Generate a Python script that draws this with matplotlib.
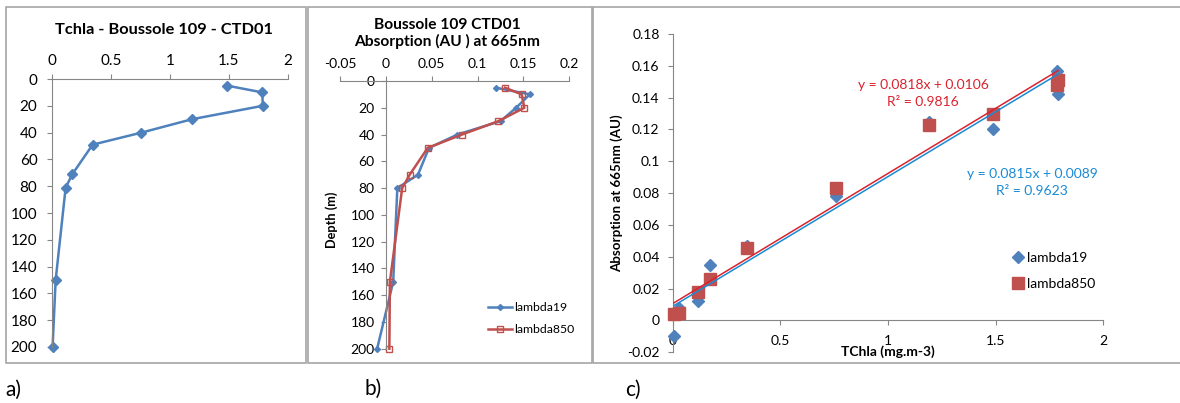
import numpy as np
import matplotlib
matplotlib.use("Agg")
import matplotlib.pyplot as plt
from matplotlib.patches import Rectangle

plt.rcParams['font.family'] = ['Lato', 'DejaVu Sans']
plt.rcParams['axes.unicode_minus'] = False

# Data
depth_tchla = [5, 10, 20, 30, 40, 49, 71, 81, 150, 200]
tchla = [1.49, 1.786, 1.79, 1.19, 0.76, 0.345, 0.173, 0.116, 0.031, 0.005]

depth_abs = [5, 10, 20, 30, 40, 50, 70, 80, 150, 200]
abs_l19 = [0.120, 0.157, 0.142, 0.125, 0.078, 0.047, 0.035, 0.0125, 0.008, -0.0095]
abs_l850 = [0.130, 0.148, 0.151, 0.1227, 0.083, 0.0456, 0.026, 0.0178, 0.0044, 0.0038]

# Excel trendline coefficients (slope, intercept, R2)
fit_l19 = (0.0815, 0.0089, 0.9623)
fit_l850 = (0.0818, 0.0106, 0.9816)

ticks_a_x = [0, 0.5, 1, 1.5, 2]
ticks_a_y = [0, 20, 40, 60, 80, 100, 120, 140, 160, 180, 200]
ticks_b_x = [-0.05, 0, 0.05, 0.1, 0.15, 0.2]
ticks_c_x = [0, 0.5, 1, 1.5, 2]
ticks_c_y = [-0.02, 0, 0.02, 0.04, 0.06, 0.08, 0.1, 0.12, 0.14, 0.16, 0.18]

blue = '#4f81bd'
red = '#c0504d'
axis_col = '#868686'
W, H = 1180, 403


def px_rect(l, t, r, b):
    return [l / W, 1 - b / H, (r - l) / W, (b - t) / H]


def fx(x):
    return x / W


def fy(y):
    return 1 - y / H


def style_axes(ax, show, labelsize, xpad, ypad):
    for s in ['top', 'bottom', 'left', 'right']:
        ax.spines[s].set_visible(s in show)
        ax.spines[s].set_color(axis_col)
        ax.spines[s].set_linewidth(0.8)
    ax.tick_params(axis='both', direction='out', length=3.5, width=0.8,
                   color=axis_col, labelsize=labelsize)
    ax.tick_params(axis='x', pad=xpad)
    ax.tick_params(axis='y', pad=ypad)


fig = plt.figure(figsize=(W / 100, H / 100), dpi=100)

# panel frames
for l, t, r, b in [(6, 7, 306, 363), (307.5, 7, 591.5, 363), (593, 7, 1185, 363)]:
    fig.add_artist(Rectangle((fx(l), fy(b)), (r - l) / W, (b - t) / H,
                             transform=fig.transFigure, fill=False,
                             ec='#a6a6a6', lw=1.2))

# a) Tchla profile
ax_a = fig.add_axes(px_rect(52, 79, 287.5, 347))
ax_a.plot(tchla, depth_tchla, color=blue, lw=1.8, marker='D', ms=5.2, clip_on=False)
ax_a.set_xlim(0, 2)
ax_a.set_ylim(200, 0)
ax_a.xaxis.tick_top()
ax_a.set_xticks(ticks_a_x, [f'{v:g}' for v in ticks_a_x])
ax_a.set_yticks(ticks_a_y, [f'{v:g}' for v in ticks_a_y])
style_axes(ax_a, ['top', 'left'], 11, 4.5, 7)
fig.text(fx(164), fy(30), 'Tchla - Boussole 109 - CTD01', ha='center', va='center',
         fontsize=11.8, fontweight='bold')

# b) absorption profile
ax_b = fig.add_axes(px_rect(340, 81, 569.3, 348.7))
ax_b.plot(abs_l19, depth_abs, color=blue, lw=1.8, marker='D', ms=3, label='lambda19',
          clip_on=False)
ax_b.plot(abs_l850, depth_abs, color=red, lw=1.8, marker='s', ms=4, mfc='none', mew=1,
          label='lambda850', clip_on=False)
ax_b.set_xlim(-0.05, 0.2)
ax_b.set_ylim(200, 0)
ax_b.xaxis.tick_top()
ax_b.spines['left'].set_position(('data', 0))
ax_b.set_xticks(ticks_b_x, [f'{v:g}' for v in ticks_b_x])
ax_b.set_yticks(ticks_a_y, [f'{v:g}' for v in ticks_a_y])
style_axes(ax_b, ['top', 'left'], 10, 4.5, 4.5)
fig.text(fx(447), fy(33.5), 'Boussole 109 CTD01\nAbsorption (AU ) at 665nm', ha='center',
         va='center', fontsize=11.2, fontweight='bold', linespacing=1.2)
fig.text(fx(332), fy(220), 'Depth (m)', rotation=90, ha='center', va='center',
         fontsize=9.2, fontweight='bold')
ax_b.legend(loc='center left', bbox_to_anchor=(fx(488), fy(318.5)),
            bbox_transform=fig.transFigure, frameon=False, fontsize=8.8,
            handlelength=2.0, handletextpad=0.15, labelspacing=0.9,
            borderpad=0, borderaxespad=0)

# c) absorption vs Tchla scatter
ax_c = fig.add_axes(px_rect(672.7, 34, 1103.3, 352.3))
h19, = ax_c.plot(tchla, abs_l19, ls='none', marker='D', ms=6.6, color=blue,
                 label='lambda19', clip_on=False, zorder=3)
h850, = ax_c.plot(tchla, abs_l850, ls='none', marker='s', ms=8.6, color=red,
                  label='lambda850', clip_on=False, zorder=4)
xs = np.array([min(tchla), max(tchla)])
ax_c.plot(xs, fit_l19[0] * xs + fit_l19[1], color='#1a8ad4', lw=1.1, zorder=5)
ax_c.plot(xs, fit_l850[0] * xs + fit_l850[1], color='#d9232e', lw=1.1, zorder=5)
ax_c.set_xlim(0, 2)
ax_c.set_ylim(-0.02, 0.18)
ax_c.spines['bottom'].set_position(('data', 0))
ax_c.set_xticks(ticks_c_x, [f'{v:g}' for v in ticks_c_x])
ax_c.set_yticks(ticks_c_y, [f'{v:g}' for v in ticks_c_y])
style_axes(ax_c, ['bottom', 'left'], 10, 7, 6)
fig.text(fx(617), fy(193), 'Absorption at 665nm (AU)', rotation=90, ha='center',
         va='center', fontsize=9.6, fontweight='bold')
fig.text(fx(888), fy(352), 'TChla (mg.m-3)', ha='center', va='center',
         fontsize=10, fontweight='bold')
fig.text(fx(923), fy(93.5),
         f'y = {fit_l850[0]}x + {fit_l850[1]}\nR\u00b2 = {fit_l850[2]}',
         ha='center', va='center', multialignment='center', fontsize=10,
         color='#d9232e', linespacing=1.5)
fig.text(fx(1032), fy(182.5),
         f'y = {fit_l19[0]}x + {fit_l19[1]}\nR\u00b2 = {fit_l19[2]}',
         ha='center', va='center', multialignment='center', fontsize=10,
         color='#1a8ad4', linespacing=1.5)
ax_c.legend(handles=[h19, h850], loc='center left', bbox_to_anchor=(fx(1012), fy(271)),
            bbox_transform=fig.transFigure, frameon=False, fontsize=10,
            handlelength=0.8, handletextpad=0.3, labelspacing=1.05,
            borderpad=0, borderaxespad=0)

# sub-panel labels
fig.text(fx(5), fy(390), 'a)', ha='left', va='center', fontsize=15)
fig.text(fx(365), fy(389), 'b)', ha='left', va='center', fontsize=15)
fig.text(fx(625), fy(390), 'c)', ha='left', va='center', fontsize=15)

fig.savefig('out.png', dpi=100)
